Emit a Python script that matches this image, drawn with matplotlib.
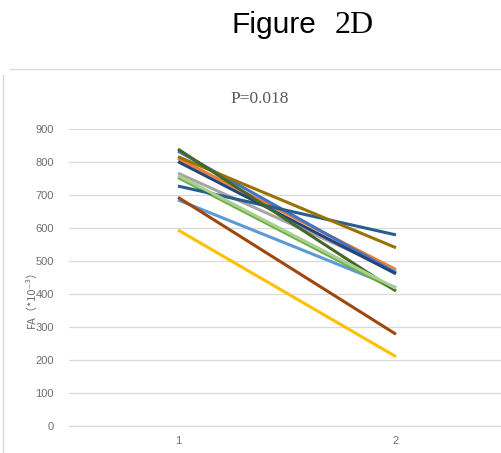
import matplotlib
matplotlib.use("Agg")
import matplotlib.pyplot as plt
from matplotlib.lines import Line2D

W, H = 501, 453

categories = [1, 2]
series_colors = ["#5B9BD5", "#ED7D31", "#A5A5A5", "#FFC000", "#4472C4", "#70AD47",
                 "#255E91", "#9E480E", "#997300", "#264478", "#43682B", "#A9D18E"]
start_vals = [686, 812, 767, 595, 834, 754, 728, 694, 817, 802, 840, 760]
end_vals   = [420, 475, 470, 211, 465, 412, 580, 279, 541, 462, 410, 418]
yticks = [0, 100, 200, 300, 400, 500, 600, 700, 800, 900]

fig = plt.figure(figsize=(W / 100, H / 100), dpi=100)
fig.patch.set_facecolor("white")

def fx(px):
    return px / W

def fy(py):
    return 1 - py / H

ax = fig.add_axes([fx(69), fy(426.3), fx(436), (426.3 - 129.3) / H])
for c, s, e in zip(series_colors, start_vals, end_vals):
    ax.plot(categories, [s, e], color=c, linewidth=2.2, solid_capstyle="butt")

ax.set_xlim(0.5, 2.5)
ax.set_ylim(0, 900)
ax.set_yticks(yticks)
ax.set_xticks(categories)
ax.set_xticklabels([str(c) for c in categories])
ax.grid(axis="y", color="#D9D9D9", linewidth=0.9)
ax.set_axisbelow(True)
for sp in ["top", "right", "left"]:
    ax.spines[sp].set_visible(False)
ax.spines["bottom"].set_color("#D9D9D9")
ax.spines["bottom"].set_linewidth(0.9)
ax.tick_params(axis="both", length=0, colors="#6E6E6E", labelsize=8)
ax.tick_params(axis="y", pad=11)
ax.tick_params(axis="x", pad=7)
for lab in ax.get_xticklabels() + ax.get_yticklabels():
    lab.set_family(["Liberation Sans", "DejaVu Sans"])

# chart title
fig.text(fx(260), fy(103), "P=0.018", family="Liberation Serif", color="#595959",
         fontsize=12.5, ha="center", va="baseline")

# y label
fig.text(fx(31), fy(296), "FA（*10⁻³）", family=["Noto Sans CJK SC", "DejaVu Sans"],
         color="#6E6E6E", fontsize=8, rotation=90, ha="center", va="center")

# figure title
fig.text(fx(232), fy(33), "Figure", family="Liberation Sans", color="black",
         fontsize=21.5, ha="left", va="baseline")
fig.text(fx(335), fy(33), "2D", family="Liberation Serif", color="black",
         fontsize=23, ha="left", va="baseline")

# chart border
fig.add_artist(Line2D([fx(10), fx(501)], [fy(69), fy(69)], color="#D9D9D9", linewidth=1))
fig.add_artist(Line2D([fx(3), fx(3)], [fy(75), fy(453)], color="#D9D9D9", linewidth=1))

fig.savefig("out.png", dpi=100, facecolor="white")
